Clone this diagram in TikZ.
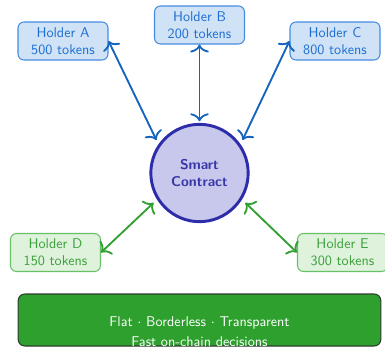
\documentclass[tikz,border=0pt]{standalone}
\usetikzlibrary{arrows.meta}
\renewcommand{\familydefault}{\sfdefault}
\definecolor{holderfill}{RGB}{207,226,246}
\definecolor{holderdraw}{RGB}{70,140,222}
\definecolor{holdertext}{RGB}{30,110,210}
\definecolor{linkblue}{RGB}{21,101,192}
\definecolor{corefill}{RGB}{200,200,236}
\definecolor{coredraw}{RGB}{45,45,170}
\definecolor{coretext}{RGB}{55,55,170}
\definecolor{smallfill}{RGB}{222,242,220}
\definecolor{smalldraw}{RGB}{105,192,105}
\definecolor{smalltext}{RGB}{60,160,60}
\definecolor{linkgreen}{RGB}{50,160,50}
\definecolor{barfill}{RGB}{46,160,46}
\definecolor{bardraw}{RGB}{45,60,45}
\newcommand{\labelsize}{\fontsize{10.6}{12.7}\selectfont}
\begin{document}
\begin{tikzpicture}[x=0.75pt,y=-0.75pt,
  every node/.style={font=\labelsize},
  holder/.style={draw=holderdraw,fill=holderfill,text=holdertext,rounded corners=4.5pt,
    line width=0.8pt,minimum width=67.5pt,minimum height=28.5pt,align=center,inner sep=1pt},
  minor/.style={holder,draw=smalldraw,fill=smallfill,text=smalltext},
  core/.style={circle,draw=coredraw,fill=corefill,text=coretext,line width=2.2pt,
    minimum size=73pt,align=center,font=\labelsize\bfseries},
  tipshape/.style={},
  link/.style={{To[length=6pt,width=14pt,line width=1.4pt]}-{To[length=6pt,width=14pt,line width=1.4pt]},
    line width=1.4pt,shorten >=3.5pt},
  bar/.style={draw=bardraw,fill=barfill,rounded corners=5pt,line width=0.8pt,
    minimum width=272pt,minimum height=39pt},
  bartext/.style={text=white,align=center}]
\useasboundingbox (0,0) rectangle (385,347);
\clip (0,0) rectangle (385,347);

% central contract
\node[core] (sc) at (199.5,173) {Smart\\Contract};

% token holders
\node[holder] (ha) at (63,41) {Holder A\\500 tokens};
\node[holder] (hb) at (199.5,25) {Holder B\\200 tokens};
\node[holder] (hc) at (335,41) {Holder C\\800 tokens};
\node[minor] (hd) at (55.5,252.5) {Holder D\\150 tokens};
\node[minor] (he) at (342.5,252.5) {Holder E\\300 tokens};

% links to the contract
\draw[link,linkblue] (ha.east) -- (sc.145);
\draw[link,linkblue,shorten >=1.2pt] (hb.south) -- (sc.north);
\draw[link,linkblue] (hc.west) -- (sc.35);
\draw[link,linkgreen] (hd.east) -- (sc.212);
\draw[link,linkgreen] (he.west) -- (sc.328);

% summary bar
\node[bar] (bar) at (199.5,320) {};
\node[bartext] (bartext) at (199.5,331.5) {Flat $\cdot$ Borderless $\cdot$ Transparent\\[2pt]Fast on-chain decisions};
\end{tikzpicture}
\end{document}
